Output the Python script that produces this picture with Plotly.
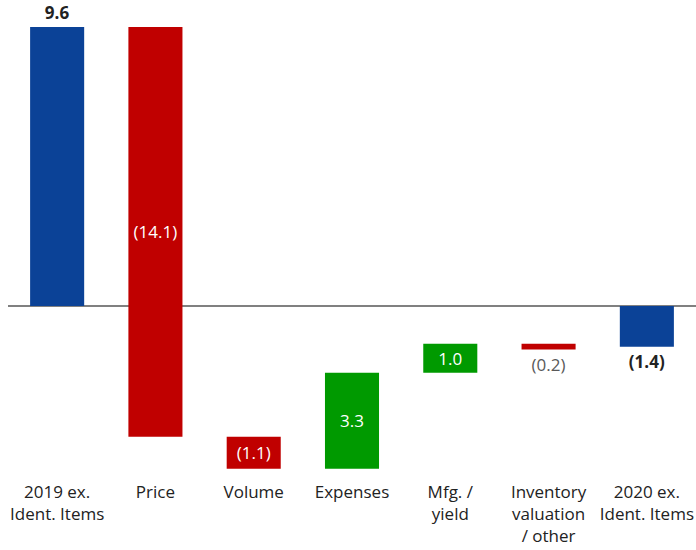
import plotly.graph_objects as go

categories = ["2019 ex.<br>Ident. Items", "Price", "Volume", "Expenses",
              "Mfg. /<br>yield", "Inventory<br>valuation<br>/ other", "2020 ex.<br>Ident. Items"]
measures = ["absolute", "relative", "relative", "relative", "relative", "relative", "absolute"]
values = [9.6, -14.1, -1.1, 3.3, 1.0, -0.2, -1.4]
labels = ["<b>9.6</b>", "(14.1)", "(1.1)", "3.3", "1.0", "(0.2)", "<b>(1.4)</b>"]

BLUE = "#0B4297"
RED = "#C00000"
GREEN = "#009A00"

bases, heights, colors, positions, tcolors = [], [], [], [], []
running = 0.0
for m, v in zip(measures, values):
    if m == "absolute":
        bases.append(0.0)
        heights.append(v)
        running = v
        colors.append(BLUE)
        positions.append("outside")
        tcolors.append("#222222")
    else:
        bases.append(running)
        heights.append(v)
        running += v
        colors.append(GREEN if v > 0 else RED)
        if abs(v) < 0.5:
            positions.append("outside")
            tcolors.append("#595959")
        else:
            positions.append("inside")
            tcolors.append("white")

fig = go.Figure(go.Bar(
    x=categories, y=heights, base=bases,
    marker=dict(color=colors, line=dict(width=0)),
    width=0.55,
    text=labels, textposition=positions,
    textfont=dict(color=tcolors, size=17, family="Open Sans"),
    insidetextanchor="middle",
    constraintext="none",
    cliponaxis=False,
    hoverinfo="skip",
))

fig.update_layout(
    width=696, height=550,
    margin=dict(l=8, r=0, t=10, b=80),
    plot_bgcolor="white", paper_bgcolor="white",
    showlegend=False,
    font=dict(family="Open Sans", size=17, color="#222222"),
    bargap=0.45,
    xaxis=dict(showgrid=False, showline=False, ticks="", tickfont=dict(size=17, color="#222222"),
               range=[-0.5, 6.5], automargin=False, ticklabelstandoff=10),
    yaxis=dict(showgrid=False, showticklabels=False, range=[-5.644, 10.186], automargin=False,
               zeroline=True, zerolinecolor="#808080", zerolinewidth=1.5),
)

fig.write_html(
    "out.html",
    config={"displayModeBar": False},
    post_script="document.body.style.margin='0px';document.body.style.overflow='hidden';",
)
